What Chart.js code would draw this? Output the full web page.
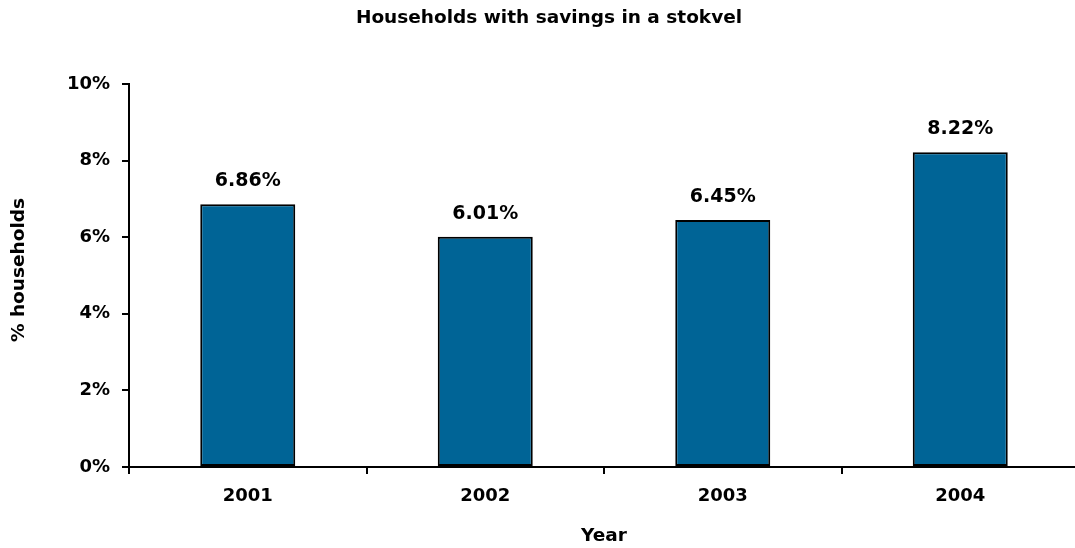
<!DOCTYPE html>
<html>
<head>
<meta charset="utf-8">
<script src="https://cdn.jsdelivr.net/npm/chart.js@4.4.0/dist/chart.umd.min.js"></script>
<style>
html,body{margin:0;padding:0;background:#fff;overflow:hidden;}
#wrap{position:relative;width:1080px;height:548px;}
</style>
</head>
<body>
<div id="wrap"><canvas id="c"></canvas></div>
<script>
const categories = ['2001', '2002', '2003', '2004'];
const stokvelShare = [6.86, 6.01, 6.45, 8.22];
const yTicks = [0, 2, 4, 6, 8, 10];
const chartTitle = 'Households with savings in a stokvel';
const xTitle = 'Year';
const yTitle = '% households';

const FONT = "'DejaVu Sans', Verdana, sans-serif";

const textPlugin = {
  id: 'texts',
  afterDatasetsDraw(chart) {
    const ctx = chart.ctx;
    ctx.save();
    ctx.fillStyle = '#000';
    ctx.font = 'bold 19px ' + FONT;
    ctx.textAlign = 'center';
    ctx.textBaseline = 'middle';
    const meta = chart.getDatasetMeta(0);
    meta.data.forEach((bar, i) => {
      ctx.fillText(stokvelShare[i].toFixed(2) + '%', bar.x, bar.y - 23);
    });
    ctx.font = 'bold 18.5px ' + FONT;
    ctx.fillText(chartTitle, 549, 18);
    const ca = chart.chartArea;
    ctx.font = 'bold 18.5px ' + FONT;
    ctx.fillText(xTitle, (ca.left + ca.right) / 2, 536);
    ctx.font = 'bold 18.5px ' + FONT;
    ctx.translate(19, 270);
    ctx.rotate(-Math.PI / 2);
    ctx.fillText(yTitle, 0, 0);
    ctx.restore();
  }
};

new Chart(document.getElementById('c'), {
  type: 'bar',
  data: {
    labels: categories,
    datasets: [{
      data: stokvelShare,
      backgroundColor: '#006496',
      borderColor: '#000',
      borderWidth: 2,
      borderSkipped: false,
      categoryPercentage: 1,
      barPercentage: 0.4
    }]
  },
  options: {
    responsive: true,
    maintainAspectRatio: false,
    animation: false,
    layout: { padding: { top: 84, right: 1, left: 0, bottom: 0 } },
    plugins: { legend: { display: false }, title: { display: false }, tooltip: { enabled: false } },
    scales: {
      x: {
        afterFit(s) { s.height = 81; },
        grid: { display: true, drawOnChartArea: false, drawTicks: true, tickLength: 7, color: '#000', lineWidth: 2, offset: true },
        border: { display: true, color: '#000', width: 2 },
        ticks: { color: '#000', font: { family: FONT, size: 18, weight: 'bold' }, padding: 12 }
      },
      y: {
        min: 0, max: 10,
        afterFit(s) { s.width = 129; },
        afterBuildTicks(s) { s.ticks = yTicks.map(v => ({ value: v })); },
        grid: { display: true, drawOnChartArea: false, drawTicks: true, tickLength: 7, color: '#000', lineWidth: 2 },
        border: { display: true, color: '#000', width: 2 },
        ticks: { color: '#000', font: { family: FONT, size: 18, weight: 'bold' }, padding: 12, callback: v => v + '%' }
      }
    }
  },
  plugins: [textPlugin]
});
</script>
</body>
</html>
